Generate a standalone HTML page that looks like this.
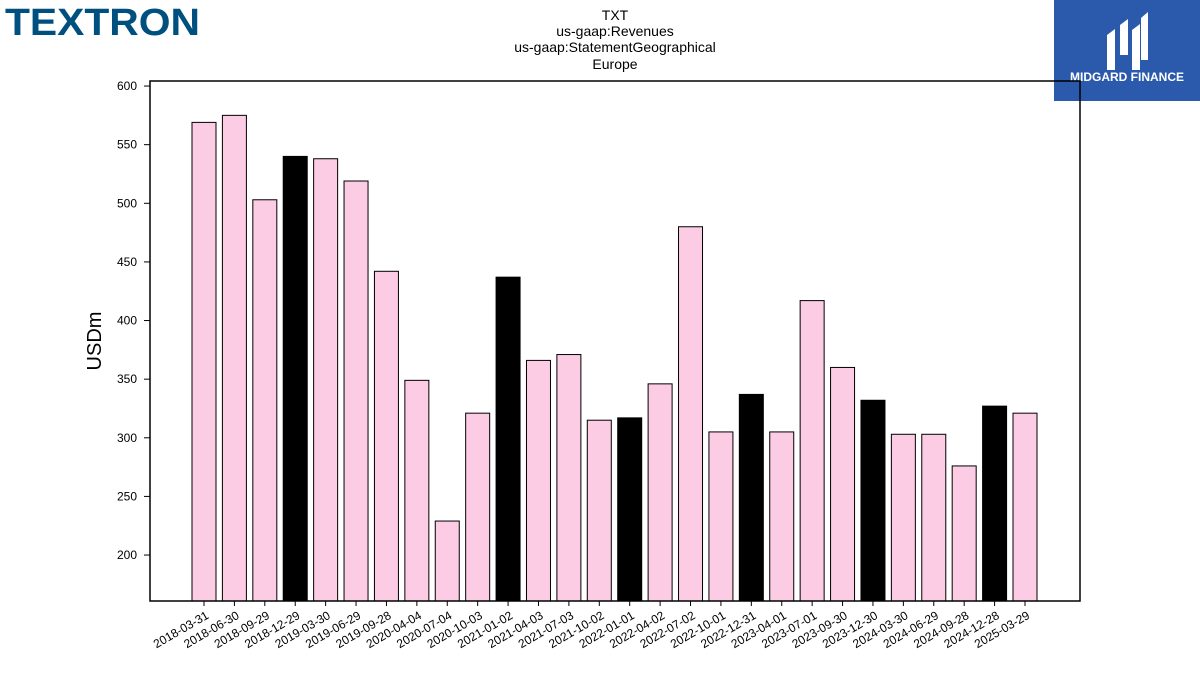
<!DOCTYPE html>
<html><head><meta charset="utf-8"><style>
body{margin:0;background:#fff;width:1200px;height:675px;overflow:hidden;font-family:"Liberation Sans","DejaVu Sans",sans-serif;}
</style></head><body>
<svg id="chart" width="1200" height="675" xmlns="http://www.w3.org/2000/svg">
<text x="5" y="35" font-size="38" font-weight="bold" fill="#00507f" font-family="Liberation Sans, sans-serif" textLength="195" lengthAdjust="spacingAndGlyphs">TEXTRON</text>
<g>
<rect x="1054" y="0" width="146" height="101" fill="#2b59ab"/>
<path d="M1107 70 V35 l8 -6 V70 Z M1120 55 V25 l8 -6 V55 Z M1132 70 V30 l8 -6 V70 Z M1141 60 V18 l7 -6 V60 Z" fill="#fff"/>
<text x="1127" y="81" font-size="12" font-weight="bold" fill="#fff" text-anchor="middle">MIDGARD FINANCE</text>
</g>
<g font-size="14" text-anchor="middle" fill="#000">
<text x="615" y="20">TXT</text><text x="615" y="36">us-gaap:Revenues</text>
<text x="615" y="52">us-gaap:StatementGeographical</text><text x="615" y="69">Europe</text>
</g>
<text transform="translate(101,341) rotate(-90)" font-size="20" text-anchor="middle">USDm</text>
<g id="bars"></g><g id="axes"></g>
<rect x="150" y="81" width="930" height="520" fill="none" stroke="#000" stroke-width="1.5"/>
</svg>
<script>
const categories=["2018-03-31","2018-06-30","2018-09-29","2018-12-29","2019-03-30","2019-06-29","2019-09-28","2020-04-04","2020-07-04","2020-10-03","2021-01-02","2021-04-03","2021-07-03","2021-10-02","2022-01-01","2022-04-02","2022-07-02","2022-10-01","2022-12-31","2023-04-01","2023-07-01","2023-09-30","2023-12-30","2024-03-30","2024-06-29","2024-09-28","2024-12-28","2025-03-29"];
const values=[569,575,503,540,538,519,442,349,229,321,437,366,371,315,317,346,480,305,337,305,417,360,332,303,303,276,327,321];
const fourthQuarter=[false,false,false,true,false,false,false,false,false,false,true,false,false,false,true,false,false,false,true,false,false,false,true,false,false,false,true,false];
const yTicks=[200,250,300,350,400,450,500,550,600];
const NS="http://www.w3.org/2000/svg";
const yMin=160.8,yMax=604.3,plotTop=81,plotBot=601;
function yScale(v){return plotBot-(v-yMin)/(yMax-yMin)*(plotBot-plotTop);}
function xScale(i){return 204+i*(1025-204)/(categories.length-1);}
const barsG=document.getElementById('bars'),axesG=document.getElementById('axes');
values.forEach((v,i)=>{
 const r=document.createElementNS(NS,'rect');
 
 
 r.setAttribute('x',xScale(i)-12);r.setAttribute('width',24);
 r.setAttribute('y',yScale(v));r.setAttribute('height',plotBot-yScale(v));
 r.setAttribute('fill',fourthQuarter[i]?'#000':'#fccbe4');r.setAttribute('stroke','#000');r.setAttribute('stroke-width','1');
 barsG.appendChild(r);
 const t=document.createElementNS(NS,'line');
 
 
 t.setAttribute('x1',xScale(i));t.setAttribute('x2',xScale(i));t.setAttribute('y1',plotBot);t.setAttribute('y2',plotBot+5);t.setAttribute('stroke','#000');
 axesG.appendChild(t);
 const l=document.createElementNS(NS,'text');
 
 
 l.setAttribute('transform','translate('+(xScale(i)+4)+','+(plotBot+14)+') rotate(-30)');
 l.setAttribute('text-anchor','end');l.setAttribute('font-size','12');l.setAttribute('dominant-baseline','middle');
 l.textContent=categories[i];axesG.appendChild(l);
});
yTicks.forEach(v=>{
 const t=document.createElementNS(NS,'line');
 
 
 t.setAttribute('x1',144);t.setAttribute('x2',150);t.setAttribute('y1',yScale(v));t.setAttribute('y2',yScale(v));t.setAttribute('stroke','#000');
 axesG.appendChild(t);
 const l=document.createElementNS(NS,'text');
 
 
 l.setAttribute('x',137);l.setAttribute('y',yScale(v)+4);l.setAttribute('text-anchor','end');l.setAttribute('font-size','12');
 l.textContent=v;axesG.appendChild(l);
});
</script>
</body></html>
